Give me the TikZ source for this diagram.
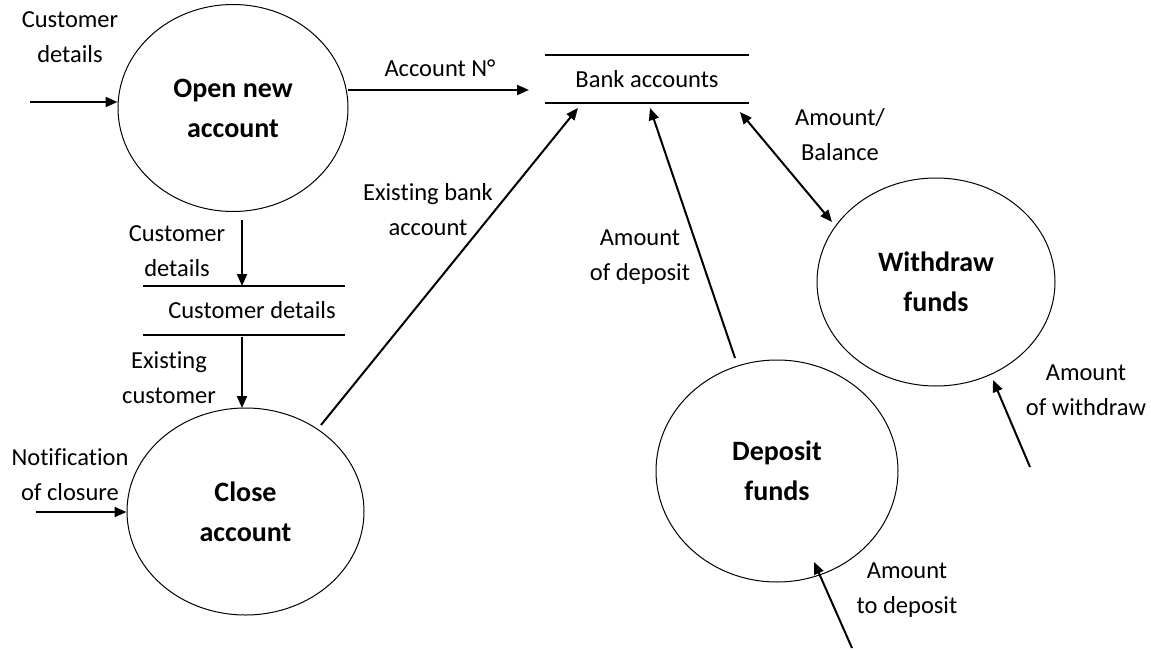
\documentclass[tikz,border=0pt]{standalone}
\usepackage{fontspec}
\setmainfont{Carlito}[Ligatures=NoCommon]
\usetikzlibrary{shapes.geometric,arrows.meta}
\begin{document}
\begin{tikzpicture}[x=1pt,y=-1pt,
  proc/.style={ellipse,draw,line width=1pt,inner sep=0pt,align=center,font=\fontsize{28}{40}\selectfont\bfseries},
  lbl/.style={align=center,inner sep=0pt,font=\fontsize{24.5}{35}\selectfont},
  storeline/.style={line width=2pt},
  flow/.style={line width=2pt,-{Triangle[length=12pt,width=10pt]}},
  biflow/.style={line width=2pt,{Triangle[length=12pt,width=10pt]}-{Triangle[length=12pt,width=10pt]}},
  ]
\useasboundingbox (0,0) rectangle (1151,650);

% processes
\node[proc,minimum width=230,minimum height=207] (open) at (233,108) {Open new\\account};
\node[proc,minimum width=237,minimum height=207] (close) at (245.5,511.5) {Close\\account};
\node[proc,minimum width=242,minimum height=222] (deposit) at (777,471) {Deposit\\funds};
\node[proc,minimum width=238,minimum height=208] (withdraw) at (936,282) {Withdraw\\funds};

% data stores
\node[lbl,minimum width=203,minimum height=48] (bank) at (647,79) {\raisebox{-3pt}{Bank accounts}};
\draw[storeline] (bank.north west) -- (bank.north east);
\draw[storeline] (bank.south west) -- (bank.south east);
\node[lbl,minimum width=202,minimum height=49] (cstore) at (244,310.5) {\hspace*{16pt}\raisebox{-4pt}{Customer details}};
\draw[storeline] (cstore.north west) -- (cstore.north east);
\draw[storeline] (cstore.south west) -- (cstore.south east);

% connector end points
\coordinate (cdin) at (30,102);
\coordinate (accA) at (348,90);
\coordinate (accB) at (529,90);
\coordinate (od1) at (242,220);
\coordinate (od2) at (242,286);
\coordinate (ec1) at (242,337);
\coordinate (ec2) at (242,408);
\coordinate (ncin) at (36,512);
\coordinate (cb1) at (321,425);
\coordinate (cb2) at (578,108);
\coordinate (db1) at (735,358);
\coordinate (db2) at (650,108);
\coordinate (wb1) at (740,112);
\coordinate (wb2) at (832,222);
\coordinate (win) at (1030,467);
\coordinate (wend) at (993,380);
\coordinate (din) at (852,648);
\coordinate (dend) at (814,562);

% connectors
\draw[flow] (cdin) -- (cdin -| open.west);
\draw[flow] (accA) -- (accB);
\draw[flow] (od1) -- (od2);
\draw[flow] (ec1) -- (ec2);
\draw[flow] (ncin) -- (ncin -| close.west);
\draw[flow] (cb1) -- (cb2);
\draw[flow] (db1) -- (db2);
\draw[biflow] (wb1) -- (wb2);
\draw[flow] (win) -- (wend);
\draw[flow] (din) -- (dend);

% labels
\node[lbl] (l1) at (70,37) {Customer\\details};
\node[lbl] (l2) at (440,68) {Account N°};
\node[lbl] (l3) at (177,251) {Customer\\details};
\node[lbl] (l4) at (169,378) {Existing\\customer};
\node[lbl] (l5) at (70,475) {Notification\\of closure};
\node[lbl] (l6) at (428,210) {Existing bank\\account};
\node[lbl] (l7) at (640,257) {Amount\\of deposit};
\node[lbl] (l8) at (840,135) {Amount/\\Balance};
\node[lbl] (l9) at (1086,390) {Amount\\of withdraw};
\node[lbl] (l10) at (907,590) {Amount\\to deposit};
\end{tikzpicture}
\end{document}
